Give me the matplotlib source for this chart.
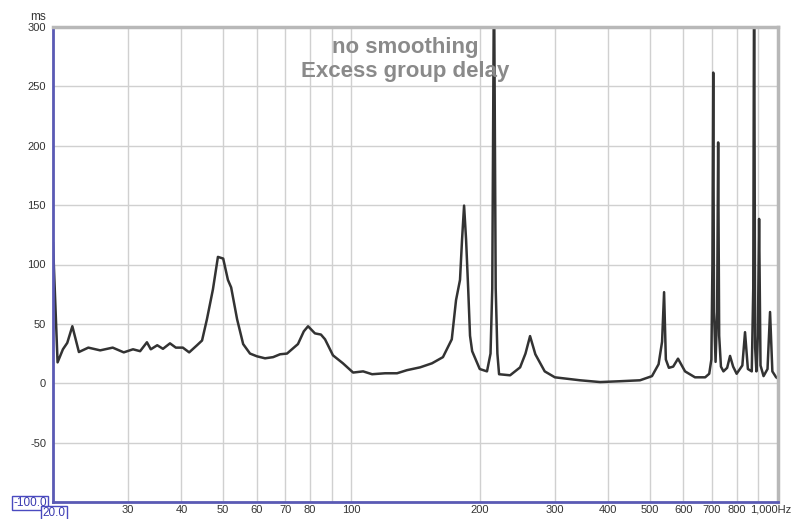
import numpy as np
import matplotlib
matplotlib.use('Agg')
import matplotlib.pyplot as plt
import matplotlib.ticker as ticker
from matplotlib.transforms import ScaledTranslation

plt.rcParams['font.family'] = ['Liberation Sans', 'DejaVu Sans']

# excess group delay (Hz, ms)
freq = [20.0, 20.5, 21.1, 21.6, 22.2, 23.0, 24.2, 25.8, 27.6, 29.3, 30.8,
        32.0, 33.2, 33.9, 35.1, 36.2, 37.6, 38.8, 40.3, 41.7, 43.5, 44.7,
        45.9, 47.4, 48.7, 50.1, 51.4, 52.3, 54.0, 55.8, 57.9, 60.1, 62.8,
        65.6, 68.1, 70.7, 72.6, 75.0, 77.4, 79.2, 82.2, 84.9, 86.8, 90.6,
        95.6, 101, 106.6, 111.9, 120, 128, 135, 145, 154.6, 164, 172, 176,
        179.8, 181.8, 183.8, 185.8, 187.9, 189.8, 192, 200, 208, 212, 214,
        216, 218, 220, 222, 235.6, 248.7, 256, 262.4, 270, 284, 300, 343.6,
        382.9, 426, 475, 506.6, 525, 535, 540.8, 546, 555, 568, 583, 605.6,
        639, 675, 690, 698, 702, 705, 708, 714, 720, 724, 728, 735, 745,
        760, 772, 785, 800, 825, 837, 850, 868, 875, 879, 884, 890, 897,
        903, 910, 925, 945, 958, 970, 990, 1000]
delay = [118, 17.6, 28.6, 34, 48, 26.3, 30, 27.7, 30, 26, 28.6,
         27, 34.5, 28.6, 32, 29, 33.6, 30, 30, 26, 32, 36,
         54, 79, 106.4, 105, 87, 80.7, 54, 33, 25, 22.7, 21,
         22, 24.4, 25, 28.6, 33, 43.7, 48, 42, 41, 37, 23.5,
         16.8, 9, 10, 7.6, 8.4, 8.4, 11, 13.4, 16.8, 22, 37, 70,
         87, 121, 149.6, 121, 80, 40, 27, 12, 10, 25, 80,
         350, 80, 25, 7.6, 6.7, 13.4, 25, 39.7, 24.4, 10, 5, 2.5,
         1, 1.7, 2.5, 6, 16, 35, 76.7, 20, 13, 14, 20.7, 10,
         5, 5, 8, 20, 100, 261.6, 60, 18, 60, 202.8, 40, 14, 10,
         13, 23, 14, 8, 15, 43, 12, 10, 80, 350, 30, 10, 40,
         138.4, 15, 6, 12, 60, 10, 5, 4]

x_ticks = [20, 30, 40, 50, 60, 70, 80, 100, 200, 300, 400, 500, 600, 700,
           800, 1000]
x_labels = ['', '30', '40', '50', '60', '70', '80', '100', '200', '300',
            '400', '500', '600', '700', '800', '1,000Hz']
x_grid = [30, 40, 50, 60, 70, 80, 90, 100, 200, 300, 400, 500, 600, 700,
          800, 900]
y_ticks = [-50, 0, 50, 100, 150, 200, 250, 300]

fig = plt.figure(figsize=(7.92, 5.19), dpi=100)
ax = fig.add_axes([53 / 792, 17 / 519, 725 / 792, 475 / 519])

ax.plot(freq, delay, color='#333333', lw=1.8, solid_joinstyle='round',
        clip_on=True)

ax.set_xscale('log')
ax.set_xlim(20, 1000)
ax.set_ylim(-100, 300)

ax.xaxis.set_major_locator(ticker.FixedLocator(x_ticks))
ax.xaxis.set_major_formatter(ticker.FixedFormatter(x_labels))
ax.xaxis.set_minor_locator(ticker.NullLocator())
ax.set_yticks(y_ticks)
ax.set_yticklabels([str(v) for v in y_ticks])

for g in x_grid:
    ax.axvline(g, color='#d0d0d0', lw=1, zorder=0)
for g in y_ticks[:-1]:
    ax.axhline(g, color='#d0d0d0', lw=1, zorder=0)

ax.tick_params(axis='both', length=0, labelsize=8, labelcolor='#333333')
ax.tick_params(axis='x', pad=2)
ax.tick_params(axis='y', pad=5)
lab = ax.get_xticklabels()[-1]
lab.set_transform(lab.get_transform()
                  + ScaledTranslation(-7 / 100, 0, fig.dpi_scale_trans))

for side in ['top', 'right']:
    ax.spines[side].set_color('#b8b8b8')
    ax.spines[side].set_linewidth(2.5)
for side in ['left', 'bottom']:
    ax.spines[side].set_color('#5a5ab4')
    ax.spines[side].set_linewidth(2)

# boxed axis-limit labels and unit
box = dict(boxstyle='square,pad=0.1', fc='white', ec='#4a4ac0', lw=1)
fig.text(47 / 792, 1 - 503 / 519, '-100.0', ha='right', va='center',
         fontsize=8.5, color='#3a3ab0', bbox=box)
fig.text(54 / 792, 1 - 513 / 519, '20.0', ha='center', va='center',
         fontsize=8.5, color='#3a3ab0', bbox=box)
fig.text(46 / 792, 1 - 17 / 519, 'ms', ha='right', va='center',
         fontsize=8.5, color='#333333')

ax.text(0.486, 0.978, 'no smoothing', transform=ax.transAxes,
        ha='center', va='top', fontsize=16, fontweight='bold',
        color='#8a8a8a')
ax.text(0.486, 0.928, 'Excess group delay', transform=ax.transAxes,
        ha='center', va='top', fontsize=16, fontweight='bold',
        color='#8a8a8a')

fig.savefig('out.png', dpi=100)
